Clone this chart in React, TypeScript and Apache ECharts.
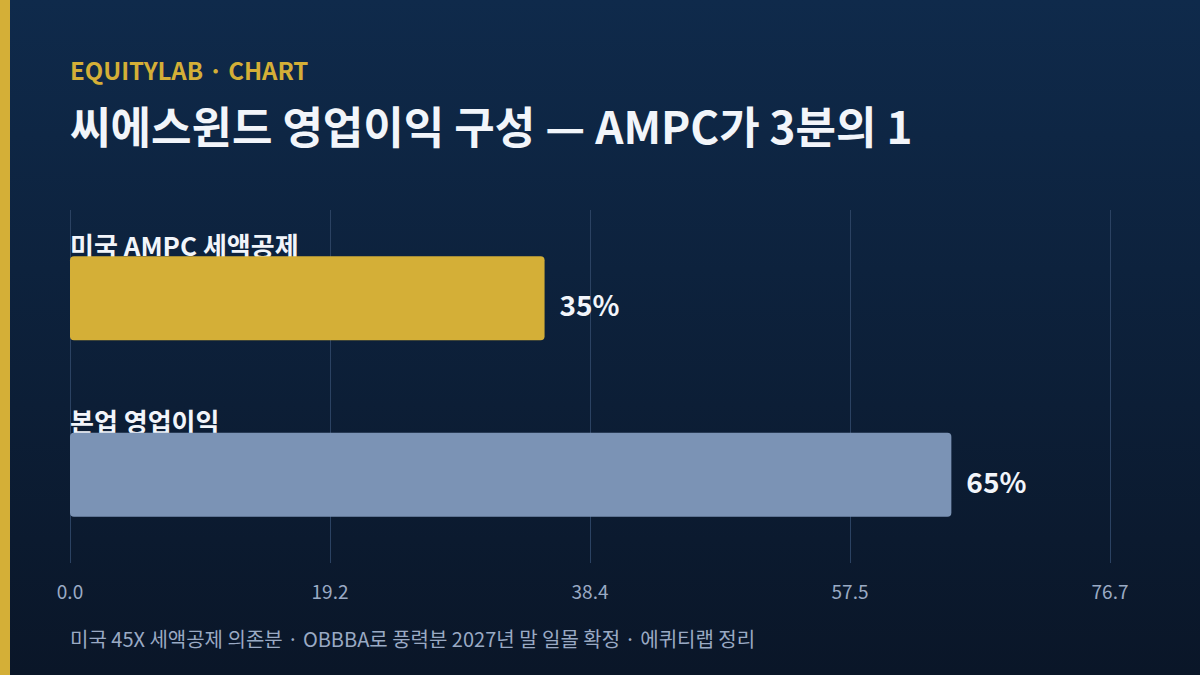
import React, { useEffect, useRef } from "react";
import * as echarts from "echarts";

const categories = ["미국 AMPC 세액공제", "본업 영업이익"];
const shares = [35, 65];
const barColors = ["#D4AF37", "#7B93B5"];
const axisRange = [0, 76.7];

const FONT = "'Noto Sans CJK KR', 'Noto Sans', sans-serif";

const App: React.FC = () => {
  const chartRef = useRef<HTMLDivElement | null>(null);

  useEffect(() => {
    if (!chartRef.current) return;
    const chart = echarts.init(chartRef.current, undefined, { renderer: "svg" });

    const option = {
      animation: false,
      backgroundColor: new echarts.graphic.LinearGradient(0, 0, 0, 1, [
        { offset: 0, color: "#0F2A4B" },
        { offset: 1, color: "#0A1628" },
      ]),
      title: [
        {
          text: "EQUITYLAB · CHART",
          left: 70,
          top: 57,
          padding: 0,
          textStyle: { fontFamily: FONT, fontSize: 24, fontWeight: "bold", color: "#D4AF37" },
        },
        {
          text: "씨에스윈드 영업이익 구성 — AMPC가 3분의 1",
          left: 70,
          top: 103,
          padding: 0,
          textStyle: { fontFamily: FONT, fontSize: 44, fontWeight: "bold", color: "#F2F5FA" },
        },
        {
          text: "미국 45X 세액공제 의존분 · OBBBA로 풍력분 2027년 말 일몰 확정 · 에퀴티랩 정리",
          left: 70,
          top: 628,
          padding: 0,
          textStyle: { fontFamily: FONT, fontSize: 20, fontWeight: "normal", color: "#9AAAC4" },
        },
      ],
      graphic: [
        {
          type: "rect",
          left: 0,
          top: 0,
          shape: { width: 10, height: 675 },
          style: { fill: "#D4AF37" },
        },
      ],
      grid: { left: 70, right: 90, top: 210, bottom: 112 },
      xAxis: {
        type: "value",
        min: axisRange[0],
        max: axisRange[1],
        interval: (axisRange[1] - axisRange[0]) / 4,
        axisLine: { show: false },
        axisTick: { show: false },
        axisLabel: {
          margin: 18,
          fontFamily: FONT,
          fontSize: 19,
          color: "#9AAAC4",
          formatter: (v: number) => v.toFixed(1),
        },
        splitLine: { lineStyle: { color: "#2B4262", width: 1 } },
      },
      yAxis: {
        type: "category",
        data: categories,
        inverse: true,
        axisLine: { show: false },
        axisTick: { show: false },
        axisLabel: {
          inside: true,
          margin: 0,
          align: "left",
          verticalAlign: "bottom",
          padding: [0, 0, 41, 0],
          fontFamily: FONT,
          fontSize: 26,
          fontWeight: "bold",
          color: "#F2F5FA",
        },
        splitLine: { show: false },
      },
      series: [
        {
          type: "bar",
          barWidth: 84,
          data: shares.map((v, i) => ({ value: v, itemStyle: { color: barColors[i] } })),
          itemStyle: { borderRadius: 4 },
          label: {
            show: true,
            position: "right",
            distance: 15,
            offset: [0, 6],
            formatter: "{c}%",
            fontFamily: FONT,
            fontSize: 28,
            fontWeight: "bold",
            color: "#F2F5FA",
          },
        },
      ],
    };

    chart.setOption(option);
    return () => {
      chart.dispose();
    };
  }, []);

  return (
    <div style={{ position: "fixed", left: 0, top: 0, width: 1200, height: 675 }}>
      <div ref={chartRef} style={{ width: 1200, height: 675 }} />
    </div>
  );
};

export default App;
